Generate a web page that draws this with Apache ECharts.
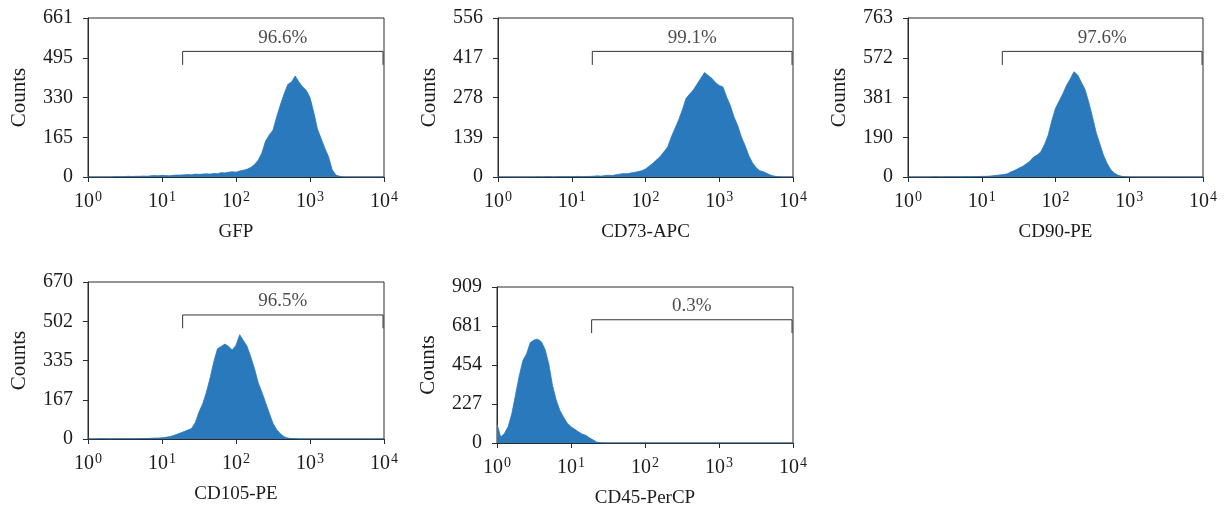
<!DOCTYPE html>
<html><head><meta charset="utf-8">
<script src="https://cdn.jsdelivr.net/npm/echarts@6/dist/echarts.min.js"></script>
<style>html,body{margin:0;padding:0;background:#fff}#c{width:1225px;height:511px}</style>
</head><body><div id="c"></div>
<script>
// log10 channel positions (decades)
const channels = [0,0.05,0.1,0.15,0.2,0.25,0.3,0.35,0.4,0.45,0.5,0.55,0.6,0.65,0.7,0.75,0.8,0.85,0.9,0.95,
 1,1.05,1.1,1.15,1.2,1.25,1.3,1.35,1.4,1.45,1.5,1.55,1.6,1.65,1.7,1.75,1.8,1.85,1.9,1.95,
 2,2.05,2.1,2.15,2.2,2.25,2.3,2.35,2.4,2.45,2.5,2.55,2.6,2.65,2.7,2.75,2.8,2.85,2.9,2.95,
 3,3.05,3.1,3.15,3.2,3.25,3.3,3.35,3.4,3.45,3.5,3.55,3.6,3.65,3.7,3.75,3.8,3.85,3.9,3.95,4];

const markers = ['GFP','CD73-APC','CD90-PE','CD105-PE','CD45-PerCP'];
const yMax = [661, 556, 763, 670, 909];
const gatePercent = ['96.6%','99.1%','97.6%','96.5%','0.3%'];
const gateLow = [19, 19, 19, 19, 19];
const gateHigh = [9700, 9700, 9700, 9700, 9700];

const gfp = [0,0,0,0,0,0,0,1,2,1, 2,3,2,3,3,4,3,5,6,5,
 7,6,5,7,8,8,9,10,9,12, 11,12,13,12,15,14,18,17,20,22,
 20,25,28,32,40,52,70,100,150,175, 195,250,300,345,385,395,420,395,375,360,
 330,270,200,160,120,85,30,8,3,0, 0,0,0,0,0,0,0,0,0,0,0];
const cd73 = [0,0,0,0,0,0,0,0,0,0, 0,1,0,1,1,0,1,1,1,1,
 1,2,2,1,2,2,3,4,3,5, 6,5,8,10,12,11,14,16,19,22,
 28,38,48,60,72,88,105,140,170,200, 235,275,290,305,325,345,365,355,345,330,
 320,315,280,250,210,180,140,110,75,50, 32,22,18,12,6,3,1,0,0,0,0];
const cd90 = [0,0,0,0,0,0,0,1,1,0, 1,1,1,1,1,1,2,1,2,2,
 3,3,4,6,8,10,12,16,25,32, 42,50,62,75,95,105,120,155,200,270,
 330,365,400,440,470,505,490,455,420,360, 290,215,160,105,65,35,18,8,3,1,
 0,0,0,0,0,0,0,0,0,0, 0,0,0,0,0,0,0,0,0,0,0];
const cd105 = [0,0,0,1,1,1,0,1,1,1, 1,1,1,1,2,2,2,3,4,4,
 5,7,10,14,20,26,32,38,45,70, 115,150,200,260,330,385,395,405,395,380,
 400,445,420,395,350,300,240,200,155,110, 67,40,22,10,4,2,1,0,0,0,
 0,0,0,0,0,0,0,0,0,0, 0,0,0,0,0,0,0,0,0,0,0];
const cd45 = [110,35,55,95,170,280,390,480,520,585, 600,605,590,545,460,335,250,190,150,115,
 95,80,65,52,45,30,18,5,1,0, 0,0,0,0,0,0,0,0,0,0,
 0,0,0,0,0,0,0,0,0,0, 0,0,0,0,0,0,0,0,0,0,
 0,0,0,0,0,0,0,0,0,0, 0,0,0,0,0,0,0,0,0,0,0];
const histograms = [gfp, cd73, cd90, cd105, cd45];

// layout (pixels)
const grids = [
  {left: 88, top: 18, width: 296, height: 159},
  {left: 498, top: 18, width: 295, height: 159},
  {left: 908, top: 18, width: 295, height: 159},
  {left: 88, top: 282, width: 296, height: 157},
  {left: 497, top: 287, width: 296, height: 156}
];
const FONT = 'Liberation Serif';
const TXT = '#1e1b1c';
const AX = '#2b2b2b';
const BLUE = '#2a79bd';
const bracketTop = 0.79, bracketBottom = 0.705;

const option = {animation: false, grid: [], xAxis: [], yAxis: [], series: []};
grids.forEach((g, k) => {
  option.grid.push(Object.assign({show: true, borderColor: AX, borderWidth: 1, containLabel: false}, g));
  option.xAxis.push({
    gridIndex: k, type: 'log', logBase: 10, min: 1, max: 10000,
    splitNumber: 4,
    name: markers[k], nameLocation: 'middle', nameGap: 46,
    nameTextStyle: {fontFamily: FONT, fontSize: 19, color: TXT},
    axisLine: {show: true, lineStyle: {color: AX, width: 1}},
    axisTick: {show: true, inside: false, length: 5, lineStyle: {color: AX}},
    splitLine: {show: false}, minorTick: {show: false},
    axisLabel: {
      margin: 13, color: TXT, fontFamily: FONT,
      formatter: v => '{b|10}{s|' + Math.round(Math.log10(v)) + '}',
      rich: {
        b: {fontFamily: FONT, fontSize: 20, color: TXT, verticalAlign: 'bottom', lineHeight: 22},
        s: {fontFamily: FONT, fontSize: 14, color: TXT, verticalAlign: 'top', lineHeight: 14, padding: [0,0,0,1]}
      }
    }
  });
  option.yAxis.push({
    gridIndex: k, type: 'value', min: 0, max: yMax[k], interval: yMax[k] / 4,
    name: 'Counts', nameLocation: 'middle', nameGap: 58, nameRotate: 90,
    nameTextStyle: {fontFamily: FONT, fontSize: 21, color: TXT},
    axisLine: {show: true, lineStyle: {color: AX, width: 1}},
    axisTick: {show: true, inside: false, length: 5, lineStyle: {color: AX}},
    splitLine: {show: false},
    axisLabel: {margin: 15, fontFamily: FONT, fontSize: 20, color: TXT,
      formatter: v => String(Math.floor(v + 1e-9))}
  });
  option.series.push({
    type: 'line', xAxisIndex: k, yAxisIndex: k, showSymbol: false, symbol: 'none',
    data: channels.map((c, i) => [Math.pow(10, c), histograms[k][i]]),
    lineStyle: {color: BLUE, width: 0.8}, areaStyle: {color: BLUE, opacity: 1},
    clip: true, z: 2
  });
  const vt = yMax[k] * bracketTop, vb = yMax[k] * bracketBottom;
  option.series.push({
    type: 'line', xAxisIndex: k, yAxisIndex: k, symbol: 'none', showSymbol: false,
    data: [[gateLow[k], vb], [gateLow[k], vt], [gateHigh[k], vt], [gateHigh[k], vb]],
    lineStyle: {color: '#333', width: 1}, z: 3
  });
  option.series.push({
    type: 'scatter', xAxisIndex: k, yAxisIndex: k, symbolSize: 0,
    data: [[Math.sqrt(gateLow[k] * gateHigh[k]), vt]],
    label: {show: true, position: 'top', distance: 4, formatter: gatePercent[k],
      fontFamily: FONT, fontSize: 19, color: TXT},
    z: 4
  });
});
echarts.init(document.getElementById('c')).setOption(option);
</script></body></html>
